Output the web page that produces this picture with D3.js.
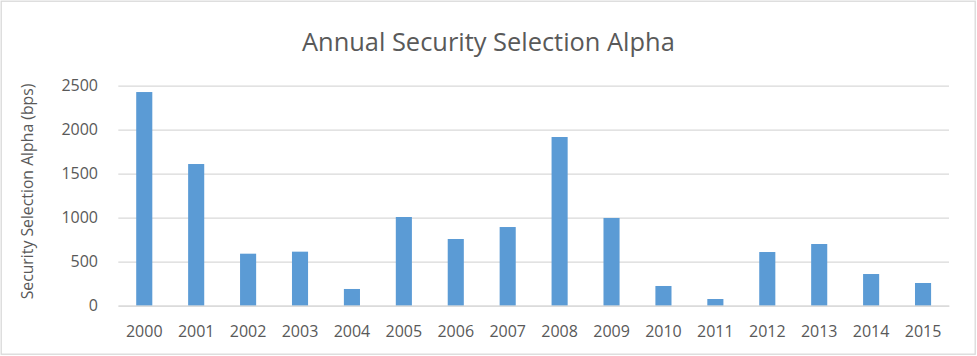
<!DOCTYPE html>
<html>
<head>
<meta charset="utf-8">
<script src="https://cdn.jsdelivr.net/npm/d3@7"></script>
<style>
  html, body { margin: 0; padding: 0; background: #fff; }
  svg { display: block; }
  text { font-family: "Open Sans", sans-serif; fill: #595959; }
</style>
</head>
<body>
<svg id="chart" width="977" height="356"></svg>
<script>
const years = ["2000","2001","2002","2003","2004","2005","2006","2007","2008","2009","2010","2011","2012","2013","2014","2015"];
const alphaBps = [2428, 1610, 591, 614, 190, 1008, 758, 894, 1917, 997, 224, 76, 610, 701, 360, 258];
const yTicks = [0, 500, 1000, 1500, 2000, 2500];
const titleText = "Annual Security Selection Alpha";
const yTitleText = "Security Selection Alpha (bps)";

const W = 977, H = 356;
const margin = { left: 118.3, right: 949, top: 85.7, bottom: 305.7 };
const svg = d3.select("#chart");

// chart border
svg.append("rect")
  .attr("x", 1.2).attr("y", 1.2)
  .attr("width", 974).attr("height", 353)
  .attr("fill", "#fff")
  .attr("stroke", "#d9d9d9").attr("stroke-width", 1.3);

const x = d3.scaleBand().domain(years)
  .range([margin.left, margin.right])
  .paddingInner(0.69).paddingOuter(0.345);
const y = d3.scaleLinear().domain([0, 2500]).range([margin.bottom, margin.top]);

// gridlines
const yAxis = d3.axisLeft(y).tickValues(yTicks).tickFormat(d3.format("d"))
  .tickSize(-(margin.right - margin.left)).tickPadding(20);
const gy = svg.append("g").attr("transform", `translate(${margin.left},0)`).call(yAxis);
gy.select(".domain").remove();
gy.selectAll(".tick line").attr("stroke", "#d9d9d9").attr("stroke-width", 1.3);
gy.selectAll(".tick text")
  .attr("x", 98 - margin.left)
  .style("font-size", "16px").style("font-family", "'Open Sans', sans-serif")
  .attr("fill", "#595959");

// bars
svg.append("g").selectAll("rect").data(years).join("rect")
  .attr("x", d => x(d))
  .attr("width", x.bandwidth())
  .attr("y", (d, i) => y(alphaBps[i]))
  .attr("height", (d, i) => y(0) - y(alphaBps[i]))
  .attr("fill", "#5b9bd5");

// x axis
const xAxis = d3.axisBottom(x).tickSize(0).tickPadding(20);
const gx = svg.append("g").attr("transform", `translate(0,${margin.bottom})`).call(xAxis);
gx.select(".domain").attr("stroke", "#d9d9d9").attr("stroke-width", 1.3);
gx.selectAll(".tick text")
  .style("font-size", "16px").style("font-family", "'Open Sans', sans-serif")
  .attr("fill", "#595959");

// fit helper
function fit(sel, target, base) {
  sel.style("font-size", base + "px");
  const len = sel.node().getComputedTextLength();
  sel.style("font-size", (base * target / len) + "px");
}

// title
const title = svg.append("text")
  .attr("x", 488.4).attr("y", 51)
  .attr("text-anchor", "middle")
  .text(titleText);
fit(title, 373, 22);

// y title
const yt = svg.append("text")
  .attr("transform", "translate(33,191.5) rotate(-90)")
  .attr("text-anchor", "middle")
  .text(yTitleText);
fit(yt, 216, 14);
</script>
</body>
</html>
